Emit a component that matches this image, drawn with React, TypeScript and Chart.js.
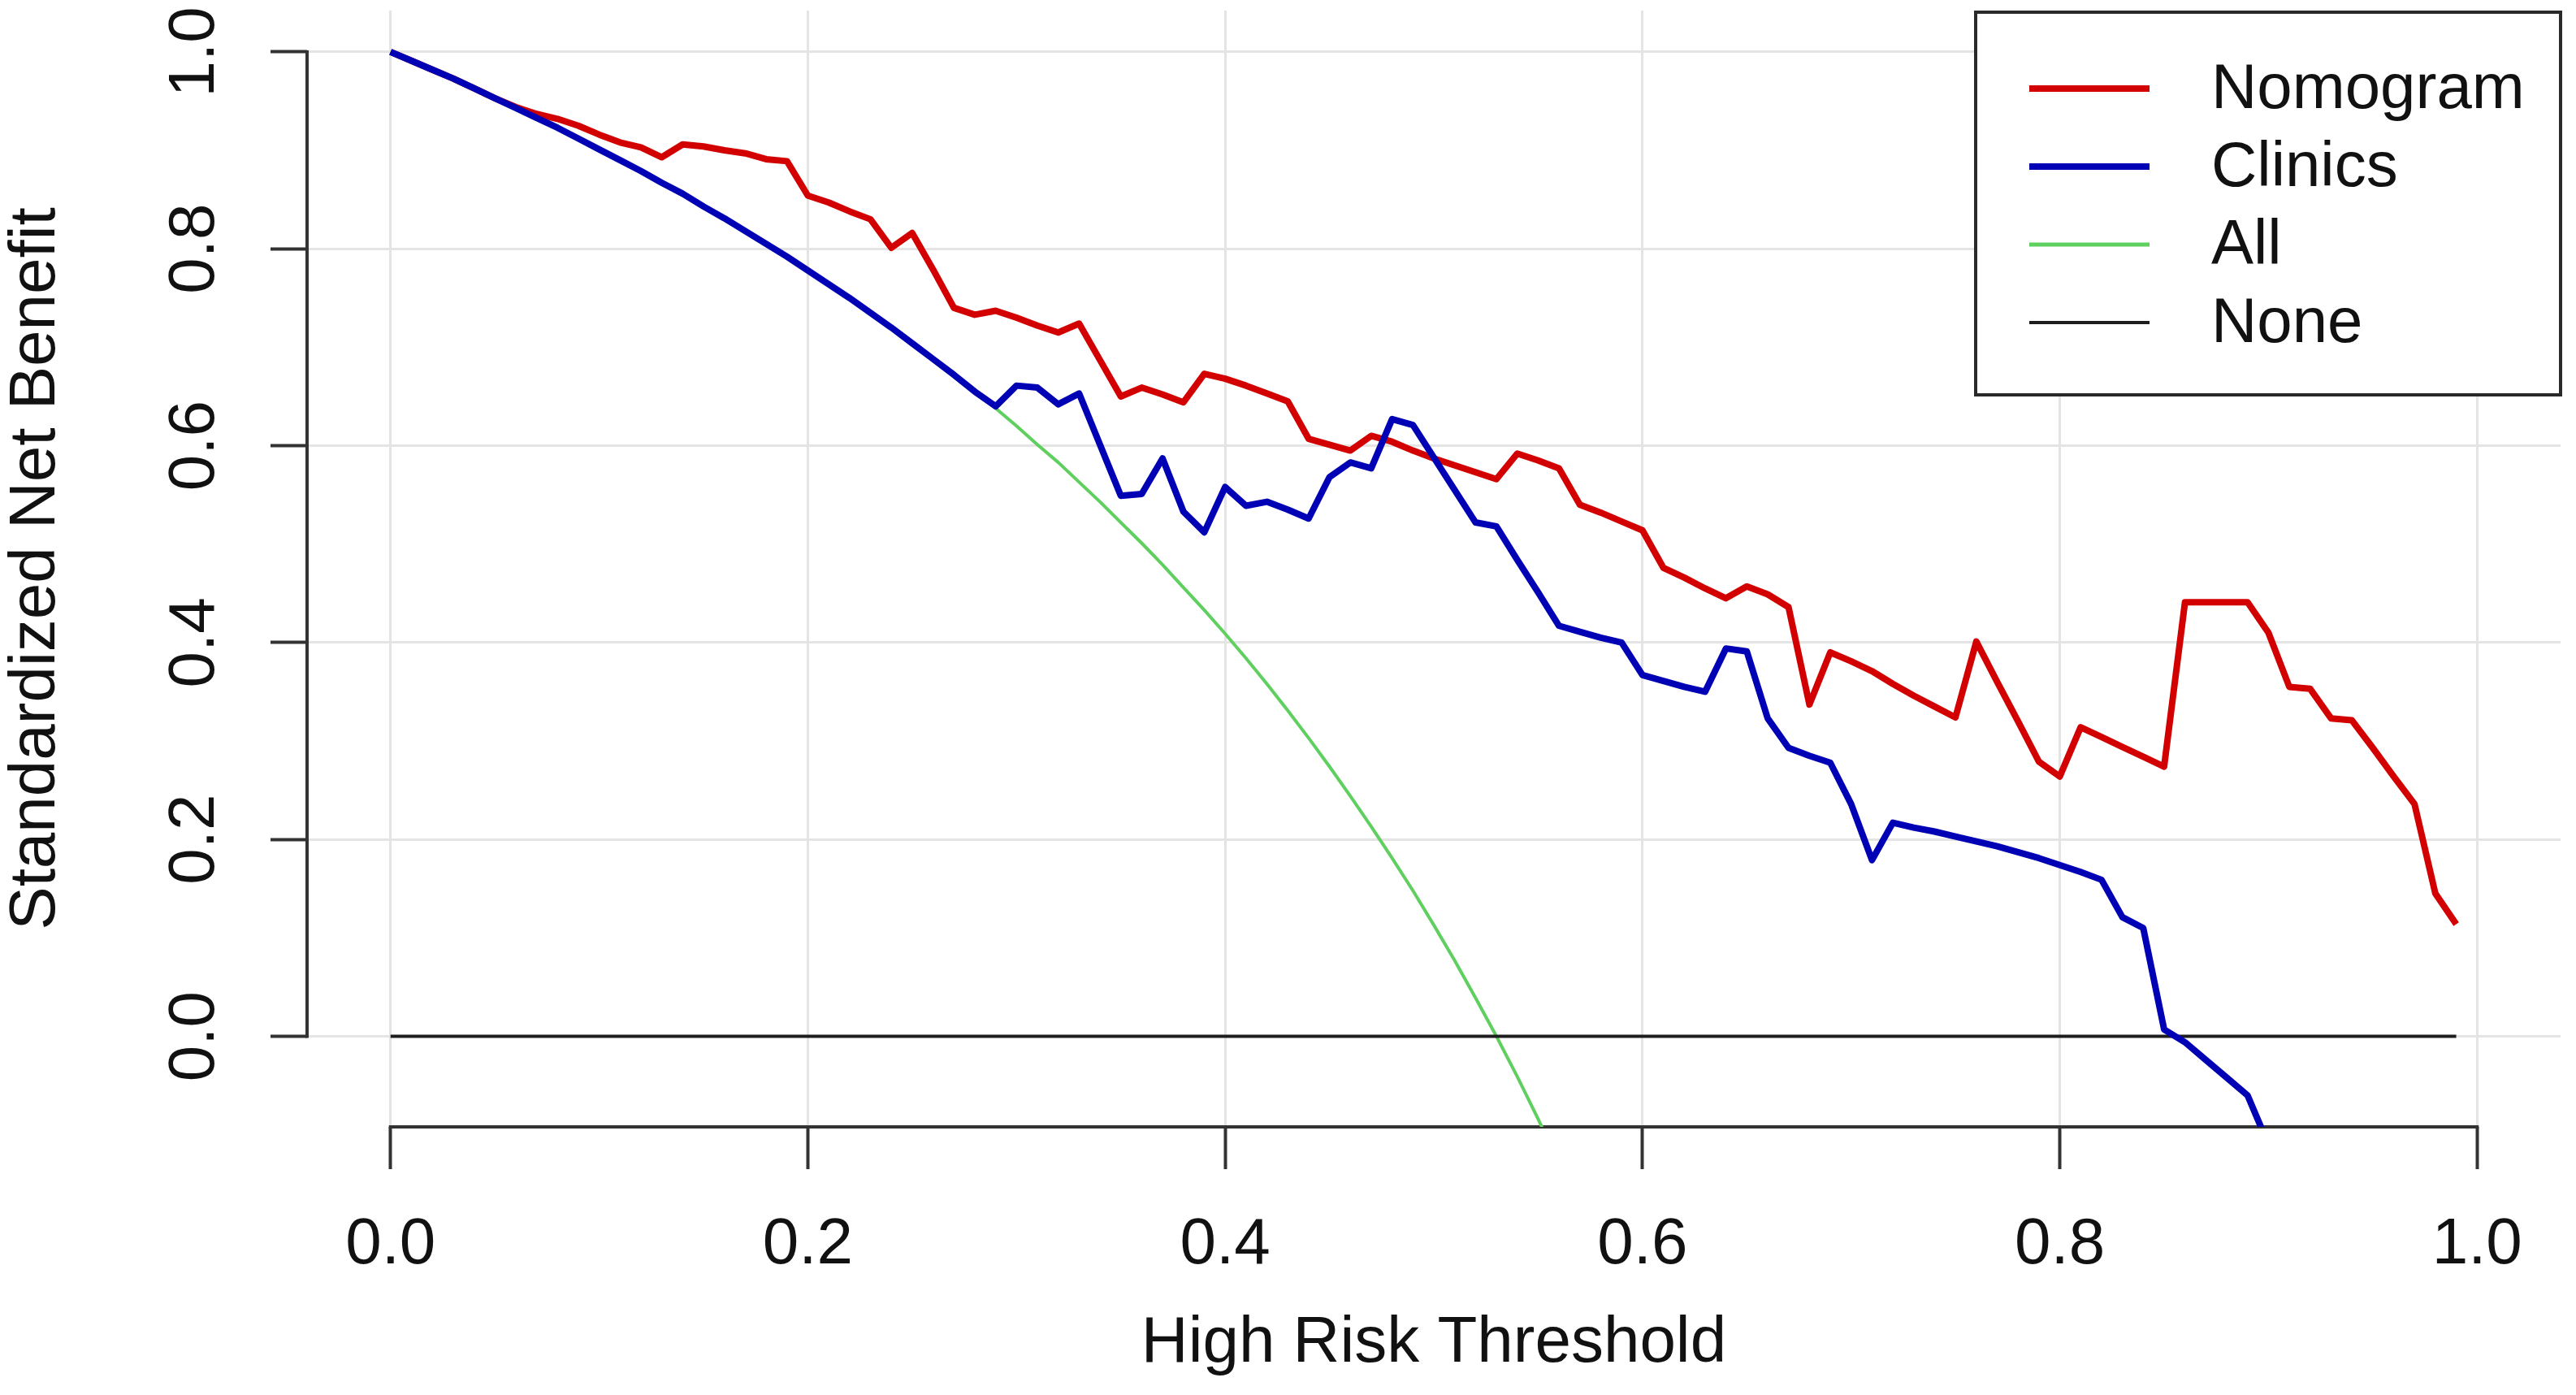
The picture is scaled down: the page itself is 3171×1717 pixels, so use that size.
import React, { useEffect, useRef } from 'react';
import { Chart, registerables } from 'chart.js';

Chart.register(...registerables);

const FONT = '"Liberation Sans", Arial, Helvetica, sans-serif';

// High risk threshold values (x)
const thresholds = [
  0.00, 0.01, 0.02, 0.03, 0.04, 0.05, 0.06, 0.07, 0.08, 0.09,
  0.10, 0.11, 0.12, 0.13, 0.14, 0.15, 0.16, 0.17, 0.18, 0.19,
  0.20, 0.21, 0.22, 0.23, 0.24, 0.25, 0.26, 0.27, 0.28, 0.29,
  0.30, 0.31, 0.32, 0.33, 0.34, 0.35, 0.36, 0.37, 0.38, 0.39,
  0.40, 0.41, 0.42, 0.43, 0.44, 0.45, 0.46, 0.47, 0.48, 0.49,
  0.50, 0.51, 0.52, 0.53, 0.54, 0.55, 0.56, 0.57, 0.58, 0.59,
  0.60, 0.61, 0.62, 0.63, 0.64, 0.65, 0.66, 0.67, 0.68, 0.69,
  0.70, 0.71, 0.72, 0.73, 0.74, 0.75, 0.76, 0.77, 0.78, 0.79,
  0.80, 0.81, 0.82, 0.83, 0.84, 0.85, 0.86, 0.87, 0.88, 0.89,
  0.90, 0.91, 0.92, 0.93, 0.94, 0.95, 0.96, 0.97, 0.98, 0.99,
];

// Standardized net benefit
const nomogram = [
  1.000, 0.991, 0.982, 0.973, 0.963, 0.953, 0.944, 0.937, 0.932, 0.925,
  0.916, 0.908, 0.903, 0.893, 0.906, 0.904, 0.900, 0.897, 0.891, 0.889,
  0.854, 0.847, 0.838, 0.830, 0.801, 0.816, 0.779, 0.740, 0.733, 0.737,
  0.730, 0.722, 0.715, 0.724, 0.687, 0.650, 0.659, 0.652, 0.644, 0.673,
  0.668, 0.661, 0.653, 0.645, 0.607, 0.601, 0.595, 0.610, 0.604, 0.595,
  0.587, 0.580, 0.573, 0.566, 0.592, 0.585, 0.577, 0.540, 0.532, 0.523,
  0.514, 0.476, 0.466, 0.455, 0.445, 0.457, 0.449, 0.436, 0.337, 0.390,
  0.381, 0.371, 0.358, 0.346, 0.335, 0.324, 0.401, 0.360, 0.320, 0.279,
  0.264, 0.314, 0.304, 0.294, 0.284, 0.274, 0.441, 0.441, 0.441, 0.441,
  0.410, 0.355, 0.353, 0.323, 0.321, 0.293, 0.264, 0.236, 0.145, 0.114,
];

const clinics = [
  1.000, 0.991, 0.982, 0.973, 0.963, 0.953, 0.943, 0.933, 0.923, 0.912,
  0.901, 0.890, 0.879, 0.867, 0.856, 0.843, 0.831, 0.818, 0.805, 0.792,
  0.778, 0.764, 0.750, 0.735, 0.720, 0.704, 0.688, 0.672, 0.655, 0.640,
  0.661, 0.659, 0.642, 0.653, 0.601, 0.549, 0.551, 0.587, 0.533, 0.512,
  0.558, 0.539, 0.543, 0.535, 0.526, 0.568, 0.583, 0.577, 0.627, 0.621,
  0.588, 0.555, 0.522, 0.518, 0.484, 0.451, 0.417, 0.411, 0.405, 0.400,
  0.367, 0.361, 0.355, 0.350, 0.394, 0.391, 0.323, 0.293, 0.285, 0.278,
  0.236, 0.179, 0.217, 0.212, 0.208, 0.203, 0.198, 0.193, 0.187, 0.181,
  0.174, 0.167, 0.159, 0.121, 0.110, 0.007, -0.006, -0.024, -0.042, -0.060,
  -0.110,
];

const treatAll = [
  1.000, 0.991, 0.982, 0.973, 0.963, 0.953, 0.943, 0.933, 0.923, 0.912,
  0.901, 0.890, 0.879, 0.867, 0.856, 0.843, 0.831, 0.818, 0.805, 0.792,
  0.778, 0.764, 0.750, 0.735, 0.720, 0.704, 0.688, 0.672, 0.655, 0.638,
  0.620, 0.601, 0.583, 0.563, 0.543, 0.522, 0.501, 0.479, 0.456, 0.433,
  0.409, 0.384, 0.358, 0.331, 0.303, 0.274, 0.244, 0.213, 0.181, 0.148,
  0.113, 0.077, 0.039, 0.000, -0.041, -0.084, -0.129,
];

const noneX = [0.0, 0.99];
const noneY = [0.0, 0.0];

const xTickValues = [0.0, 0.2, 0.4, 0.6, 0.8, 1.0];
const yTickValues = [0.0, 0.2, 0.4, 0.6, 0.8, 1.0];

const seriesNames = ['Nomogram', 'Clinics', 'All', 'None'];
const seriesColors = ['#d20000', '#0000b4', '#5fcf5f', '#1e1e1e'];

function toPoints(xs: number[], ys: number[]) {
  return ys.map((y, i) => ({ x: xs[i], y }));
}

const axisLinesPlugin = {
  id: 'rAxisLines',
  beforeDatasetsDraw(chart: any) {
    const { ctx, chartArea, scales } = chart;
    const x = scales.x;
    const y = scales.y;
    ctx.save();
    ctx.strokeStyle = '#333';
    ctx.lineWidth = 4;
    ctx.beginPath();
    const xb = Math.round(chartArea.bottom);
    ctx.moveTo(x.getPixelForValue(xTickValues[0]) - 2, xb);
    ctx.lineTo(x.getPixelForValue(xTickValues[xTickValues.length - 1]) + 2, xb);
    const yl = Math.round(chartArea.left);
    ctx.moveTo(yl, y.getPixelForValue(yTickValues[0]) + 2);
    ctx.lineTo(yl, y.getPixelForValue(yTickValues[yTickValues.length - 1]) - 2);
    ctx.stroke();
    ctx.restore();
  },
};

const boxLegendPlugin = {
  id: 'boxLegend',
  afterDatasetsDraw(chart: any) {
    const { ctx, chartArea } = chart;
    const w = 720;
    const h = 471;
    const right = chartArea.right;
    const left = right - w;
    const top = chartArea.top + 2;
    ctx.save();
    ctx.fillStyle = '#ffffff';
    ctx.fillRect(left, top, w, h);
    ctx.strokeStyle = '#2a2a2a';
    ctx.lineWidth = 4;
    ctx.strokeRect(left, top, w, h);
    chart.data.datasets.forEach((ds: any, i: number) => {
      const cy = top + 94 + i * 96;
      ctx.strokeStyle = ds.borderColor;
      ctx.lineWidth = ds.legendLineWidth;
      ctx.beginPath();
      ctx.moveTo(left + 66, cy);
      ctx.lineTo(left + 214, cy);
      ctx.stroke();
      ctx.fillStyle = '#111';
      ctx.font = `78px ${FONT}`;
      ctx.textAlign = 'left';
      ctx.textBaseline = 'middle';
      ctx.fillText(ds.label, left + 290, cy + 2);
    });
    ctx.restore();
  },
};

export default function App() {
  const canvasRef = useRef<HTMLCanvasElement | null>(null);

  useEffect(() => {
    if (!canvasRef.current) return;
    const chart = new Chart(canvasRef.current, {
      type: 'line',
      data: {
        datasets: [
          {
            label: seriesNames[0],
            data: toPoints(thresholds, nomogram),
            borderColor: seriesColors[0],
            borderWidth: 8,
            order: 1,
            legendLineWidth: 8,
          } as any,
          {
            label: seriesNames[1],
            data: toPoints(thresholds, clinics),
            borderColor: seriesColors[1],
            borderWidth: 8,
            order: 0,
            legendLineWidth: 8,
          } as any,
          {
            label: seriesNames[2],
            data: toPoints(thresholds, treatAll),
            borderColor: seriesColors[2],
            borderWidth: 4,
            order: 3,
            legendLineWidth: 5,
          } as any,
          {
            label: seriesNames[3],
            data: toPoints(noneX, noneY),
            borderColor: seriesColors[3],
            borderWidth: 4,
            order: 2,
            legendLineWidth: 4,
          } as any,
        ],
      },
      options: {
        animation: false,
        responsive: true,
        maintainAspectRatio: false,
        layout: { padding: { left: 0, top: 13, right: 19, bottom: 0 } },
        elements: {
          point: { radius: 0, hoverRadius: 0 },
          line: { tension: 0, fill: false, borderJoinStyle: 'round', borderCapStyle: 'butt' },
        },
        plugins: {
          legend: { display: false },
          tooltip: { enabled: false },
        },
        scales: {
          x: {
            type: 'linear',
            min: -0.04,
            max: 1.04,
            afterBuildTicks: (s: any) => {
              s.ticks = xTickValues.map((v) => ({ value: v }));
            },
            afterFit: (s: any) => {
              s.height = 330;
              s.paddingLeft = 0;
              s.paddingRight = 0;
            },
            border: { display: false },
            grid: {
              color: '#e4e4e4',
              lineWidth: 3,
              drawTicks: true,
              tickLength: 52,
              tickColor: '#333',
              tickWidth: 4,
            },
            ticks: {
              font: { family: FONT, size: 80 },
              color: '#111',
              padding: 46,
              maxRotation: 0,
              minRotation: 0,
              autoSkip: false,
              callback: (v: any) => Number(v).toFixed(1),
            },
            title: {
              display: true,
              text: 'High Risk Threshold',
              font: { family: FONT, size: 80, lineHeight: 1 },
              color: '#111',
              padding: { top: 0, bottom: 23 },
            },
          },
          y: {
            type: 'linear',
            min: -0.092,
            max: 1.042,
            afterBuildTicks: (s: any) => {
              s.ticks = yTickValues.map((v) => ({ value: v }));
            },
            afterFit: (s: any) => {
              s.width = 378;
              s.paddingTop = 0;
              s.paddingBottom = 0;
            },
            border: { display: false },
            grid: {
              color: '#e4e4e4',
              lineWidth: 3,
              drawTicks: true,
              tickLength: 45,
              tickColor: '#333',
              tickWidth: 4,
            },
            ticks: {
              font: { family: FONT, size: 80 },
              color: '#111',
              padding: 36,
              minRotation: 90,
              maxRotation: 90,
              crossAlign: 'center',
              autoSkip: false,
              callback: (v: any) => Number(v).toFixed(1),
            },
            title: {
              display: true,
              text: 'Standardized Net Benefit',
              font: { family: FONT, size: 80, lineHeight: 1 },
              color: '#111',
              padding: { top: 5, bottom: 0 },
            },
          },
        },
      },
      plugins: [axisLinesPlugin, boxLegendPlugin],
    } as any);
    return () => {
      chart.destroy();
    };
  }, []);

  return (
    <div
      style={{
        position: 'fixed',
        left: 0,
        top: 0,
        width: '3171px',
        height: '1717px',
        background: '#ffffff',
      }}
    >
      <canvas ref={canvasRef} />
    </div>
  );
}
